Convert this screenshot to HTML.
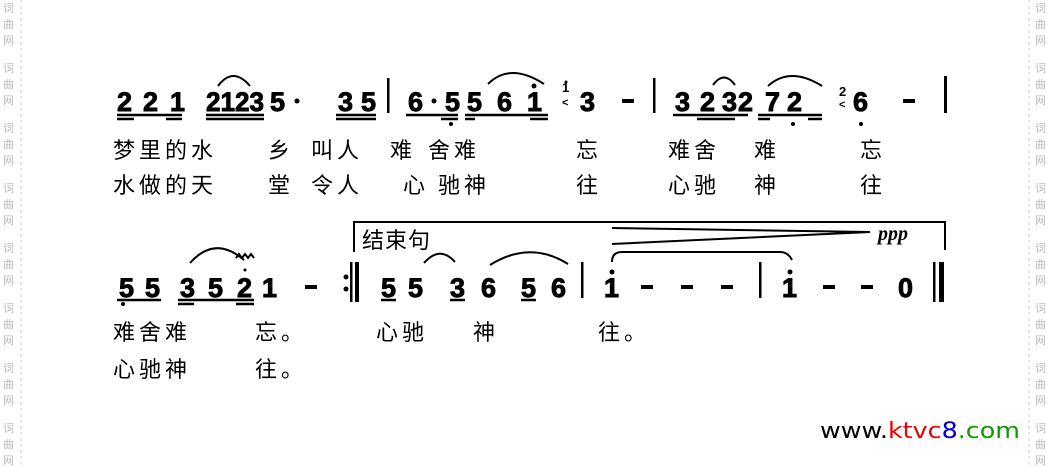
<!DOCTYPE html>
<html><head><meta charset="utf-8"><style>
html,body{margin:0;padding:0;background:#fff;}
svg{display:block}
.n{font-family:"Liberation Sans",sans-serif;font-weight:bold;font-size:27px;fill:#000;stroke:#000;stroke-width:0.9}
.g{font-family:"Liberation Sans",sans-serif;font-weight:bold;font-size:13px;fill:#000}
.l{font-family:"Liberation Sans","Noto Sans CJK SC",sans-serif;font-size:22px;fill:#000;letter-spacing:4px}
.w{font-family:"Noto Sans CJK SC",sans-serif;font-size:11px;fill:#bbb}
</style></head><body>
<svg width="1050" height="468" viewBox="0 0 1050 468" xmlns="http://www.w3.org/2000/svg">
<line x1="21" y1="0" x2="21" y2="468" stroke="#ccc" stroke-dasharray="3,3"/>
<line x1="1029" y1="0" x2="1029" y2="468" stroke="#ccc" stroke-dasharray="3,3"/>
<g class="w">
<text x="3" y="12">词</text><text x="3" y="28">曲</text><text x="3" y="44">网</text>
<text x="3" y="72">词</text><text x="3" y="88">曲</text><text x="3" y="104">网</text>
<text x="3" y="132">词</text><text x="3" y="148">曲</text><text x="3" y="164">网</text>
<text x="3" y="192">词</text><text x="3" y="208">曲</text><text x="3" y="224">网</text>
<text x="3" y="252">词</text><text x="3" y="268">曲</text><text x="3" y="284">网</text>
<text x="3" y="312">词</text><text x="3" y="328">曲</text><text x="3" y="344">网</text>
<text x="3" y="372">词</text><text x="3" y="388">曲</text><text x="3" y="404">网</text>
<text x="3" y="432">词</text><text x="3" y="448">曲</text><text x="3" y="464">网</text>
<text x="1035" y="12">词</text><text x="1035" y="28">曲</text><text x="1035" y="44">网</text>
<text x="1035" y="72">词</text><text x="1035" y="88">曲</text><text x="1035" y="104">网</text>
<text x="1035" y="132">词</text><text x="1035" y="148">曲</text><text x="1035" y="164">网</text>
<text x="1035" y="192">词</text><text x="1035" y="208">曲</text><text x="1035" y="224">网</text>
<text x="1035" y="252">词</text><text x="1035" y="268">曲</text><text x="1035" y="284">网</text>
<text x="1035" y="312">词</text><text x="1035" y="328">曲</text><text x="1035" y="344">网</text>
<text x="1035" y="372">词</text><text x="1035" y="388">曲</text><text x="1035" y="404">网</text>
<text x="1035" y="432">词</text><text x="1035" y="448">曲</text><text x="1035" y="464">网</text>
</g>

<g class="n">
<text x="117" y="111">2</text><text x="143" y="111">2</text><text x="170" y="111">1</text>
<text x="206" y="111" textLength="58" lengthAdjust="spacingAndGlyphs">2123</text>
<text x="270" y="111">5</text>
<text x="338" y="111">3</text><text x="361" y="111">5</text>
<text x="408" y="111">6</text><text x="445" y="111">5</text>
<text x="467" y="111">5</text><text x="497" y="111">6</text><text x="527" y="111">1</text>
<text x="580" y="111">3</text>
<text x="675" y="111">3</text><text x="700" y="111">2</text><text x="722" y="111">3</text>
<text x="738" y="111">2</text><text x="765" y="111">7</text><text x="787" y="111">2</text>
<text x="853" y="111">6</text>
</g>
<g fill="#000">
<circle cx="297" cy="101" r="2.5"/><circle cx="434" cy="101" r="2.5"/>
<circle cx="534" cy="86" r="2.5"/>
<rect x="622" y="99" width="12" height="4"/><rect x="903" y="99" width="12" height="4"/>
<rect x="387" y="78" width="2.5" height="35"/><rect x="653" y="78" width="2.5" height="35"/><rect x="944" y="76" width="3" height="37"/>
<circle cx="793" cy="124" r="2"/><circle cx="861" cy="124" r="2"/><circle cx="451" cy="124" r="2"/>
</g>
<g class="g"><text x="562" y="92">1</text><text x="562" y="106" font-size="11">&lt;</text><text x="839" y="96">2</text><text x="839" y="108" font-size="11">&lt;</text></g>
<circle cx="566" cy="82" r="1.5"/>
<g stroke="#000" stroke-width="2.5" fill="none">
<line x1="117" y1="115" x2="182" y2="115"/><line x1="117" y1="119" x2="134" y2="119"/><line x1="166" y1="119" x2="182" y2="119"/>
<line x1="206" y1="115" x2="264" y2="115"/><line x1="206" y1="119" x2="264" y2="119"/>
<line x1="336" y1="115" x2="376" y2="115"/><line x1="336" y1="119" x2="376" y2="119"/>
<line x1="406" y1="115" x2="458" y2="115"/><line x1="441" y1="119" x2="458" y2="119"/>
<line x1="465" y1="115" x2="548" y2="115"/><line x1="465" y1="119" x2="475" y2="119"/><line x1="530" y1="119" x2="548" y2="119"/>
<line x1="673" y1="115" x2="748" y2="115"/><line x1="697" y1="119" x2="735" y2="119"/>
<line x1="758" y1="115" x2="822" y2="115"/><line x1="758" y1="119" x2="770" y2="119"/><line x1="808" y1="119" x2="822" y2="119"/>
<path d="M218 86 Q233 66 250 86" stroke-width="2"/>
<path d="M488 84 Q510 62 544 84" stroke-width="2"/>
<path d="M713 85 Q724 70 735 85" stroke-width="2"/>
<path d="M768 86 Q790 66 822 86" stroke-width="2"/>
</g>
<g class="l">
<text x="113" y="158">梦里的水</text><text x="268" y="158">乡</text><text x="311" y="158">叫人</text><text x="390" y="158">难</text><text x="428" y="158">舍难</text><text x="576" y="158">忘</text><text x="668" y="158">难舍</text><text x="754" y="158">难</text><text x="860" y="158">忘</text>
<text x="113" y="193">水做的天</text><text x="268" y="193">堂</text><text x="311" y="193">令人</text><text x="403" y="193">心</text><text x="438" y="193">驰神</text><text x="576" y="193">往</text><text x="668" y="193">心驰</text><text x="754" y="193">神</text><text x="860" y="193">往</text>
</g>

<g stroke="#000" fill="none">
<polyline points="354,252 354,222 945,222 945,250" stroke-width="2"/>
<line x1="612" y1="228" x2="870" y2="232" stroke-width="2"/>
<line x1="612" y1="244" x2="870" y2="232" stroke-width="2"/>
<path d="M612 262 Q612 252 622 252 L780 252 Q788 252 792 260" stroke-width="2"/>
<path d="M190 263 Q215 235 244 260" stroke-width="2"/>
<path d="M424 263 Q440 245 455 262" stroke-width="2"/>
<path d="M490 265 Q530 240 568 264" stroke-width="2"/>
</g>
<text x="362" y="248" class="l" font-size="20" style="letter-spacing:1px">结束句</text>
<text x="878" y="240" font-family="Liberation Serif,serif" font-style="italic" font-weight="bold" font-size="20">ppp</text>
<g class="n">
<text x="119" y="297">5</text><text x="145" y="297">5</text>
<text x="180" y="297">3</text><text x="208" y="297">5</text><text x="237" y="297">2</text>
<text x="262" y="297">1</text>
<text x="381" y="297">5</text><text x="408" y="297">5</text>
<text x="450" y="297">3</text><text x="481" y="297">6</text>
<text x="521" y="297">5</text><text x="551" y="297">6</text>
<text x="604" y="297">1</text><text x="782" y="297">1</text>
<text x="898" y="297">0</text>
</g>
<g fill="#000">
<circle cx="123" cy="304" r="2"/>
<rect x="305" y="285" width="12" height="4"/><rect x="641" y="285" width="12" height="4"/><rect x="681" y="285" width="12" height="4"/><rect x="721" y="285" width="12" height="4"/><rect x="823" y="285" width="12" height="4"/><rect x="861" y="285" width="12" height="4"/>
<circle cx="346" cy="277" r="2.5"/><circle cx="346" cy="289" r="2.5"/>
<rect x="350" y="262" width="2.5" height="40"/><rect x="355" y="262" width="4" height="40"/>
<rect x="581" y="262" width="2.5" height="36"/><rect x="759" y="262" width="2.5" height="36"/>
<rect x="933" y="262" width="2.5" height="40"/><rect x="939" y="262" width="5" height="40"/>
<circle cx="612" cy="272" r="2.5"/><circle cx="790" cy="272" r="2.5"/>
<circle cx="245" cy="270" r="1.5"/>
</g>
<path d="M236 258 l3 -4 l3 4 l3 -4 l3 4 l3 -4 l3 4" stroke="#000" stroke-width="2" fill="none"/>
<g stroke="#000" stroke-width="2.5">
<line x1="117" y1="300" x2="161" y2="300"/>
<line x1="178" y1="300" x2="254" y2="300"/><line x1="178" y1="304" x2="194" y2="304"/><line x1="236" y1="304" x2="254" y2="304"/>
<line x1="381" y1="300" x2="396" y2="300"/><line x1="450" y1="300" x2="465" y2="300"/><line x1="521" y1="300" x2="536" y2="300"/>
</g>
<g class="l">
<text x="113" y="340">难舍难</text><text x="255" y="340">忘。</text><text x="376" y="340">心驰</text><text x="473" y="340">神</text><text x="598" y="340">往。</text>
<text x="113" y="377">心驰神</text><text x="255" y="377">往。</text>
</g>
<text x="820" y="438" font-family="DejaVu Sans,sans-serif" font-size="22" textLength="200" lengthAdjust="spacingAndGlyphs"><tspan fill="#000">www.</tspan><tspan fill="#e00">ktvc</tspan><tspan fill="#00c">8</tspan><tspan fill="#190">.com</tspan></text>
</svg>
</body></html>
